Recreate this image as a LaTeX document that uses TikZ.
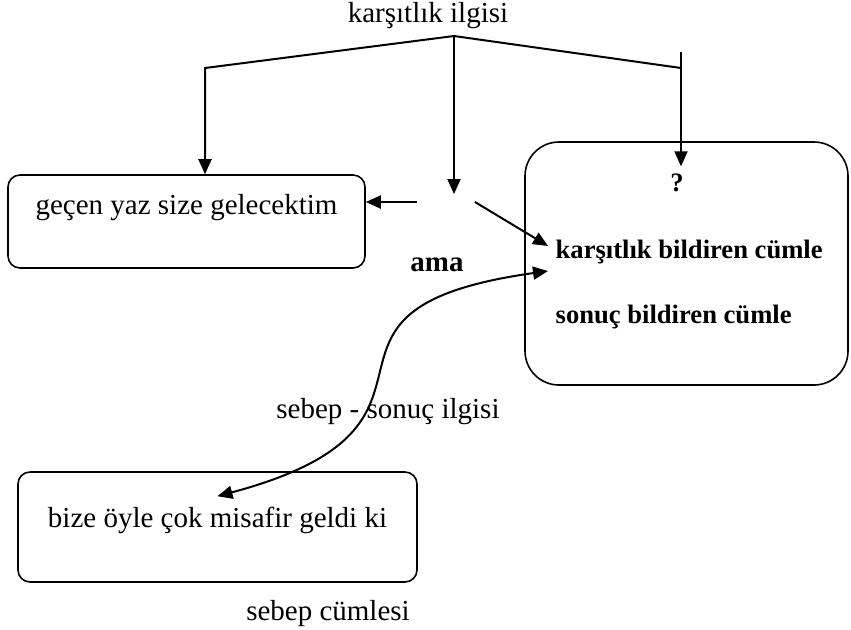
\documentclass[tikz,border=0pt]{standalone}
\usepackage{fontspec}
\setmainfont{Liberation Serif}
\usetikzlibrary{arrows.meta}

\begin{document}
\begin{tikzpicture}[x=0.5pt, y=-0.5pt, line width=1pt,
    arr/.style={-{Triangle[length=7.5pt,width=6.5pt]}},
    twoarr/.style={{Triangle[length=7.5pt,width=6.5pt]}-{Triangle[length=7.5pt,width=6.5pt]}},
    box/.style={draw, line width=0.8pt, rounded corners=6pt, inner sep=0pt},
    lbl/.style={font=\fontsize{14.5}{17}\selectfont},
    blbl/.style={font=\fontsize{13.3}{16}\selectfont\bfseries}]

    \useasboundingbox (0,0) rectangle (851,629);

      % Boxes
      \node[box, lbl, minimum width=178.5pt, text height=19.5pt, text depth=27pt] (gecen) at (186.5,221.5) {geçen yaz size gelecektim};
      \node[box, lbl, minimum width=199.5pt, text height=27.5pt, text depth=27.5pt] (bize) at (217.5,527) {bize öyle çok misafir geldi ki};
      \node[box, rounded corners=17pt, minimum width=161.5pt, minimum height=121.5pt] (sag) at (686.5,263.5) {};

      % Texts in the right box
      \node[blbl] (soru) at (677,183) {?};
      \node[blbl, anchor=west] (kb) at (548,252) {karşıtlık bildiren cümle};
      \node[blbl, anchor=west] (sb) at (548,317) {sonuç bildiren cümle};

      % Labels
      \node[lbl] (ilgi) at (428,16) {karşıtlık ilgisi};
      \node[lbl, font=\fontsize{14.5}{17}\selectfont\bfseries] (ama) at (437,265) {ama};
      \node[lbl] (ssi) at (388,412) {sebep - sonuç ilgisi};
      \node[lbl] (scum) at (328,614) {sebep cümlesi};
      \node[minimum width=28pt, minimum height=7pt, inner sep=0pt] (hub) at (446,202) {};

      % Arrows
      \coordinate (apex) at (454,36);
      \coordinate (lk) at (205,68);
      \coordinate (rk) at (681,68);
      \coordinate (rtop) at (681,52);

      \draw[arr] (apex) -- (lk) -- (lk |- gecen.north);
      \draw[arr] (apex) -- (apex |- hub.north);
      \draw (apex) -- (rk);
      \draw[arr] (rtop) -- (rtop |- soru.north);

      \path[arr]
        (hub.west) edge (hub.west -| gecen.east)
        (hub.east) edge ([yshift=3pt]kb.west);

      \draw[twoarr] ([yshift=-12.5pt]bize.north) to[out=15, in=188, looseness=1.8] ([yshift=-9.5pt]kb.west);

    \end{tikzpicture}
\end{document}
